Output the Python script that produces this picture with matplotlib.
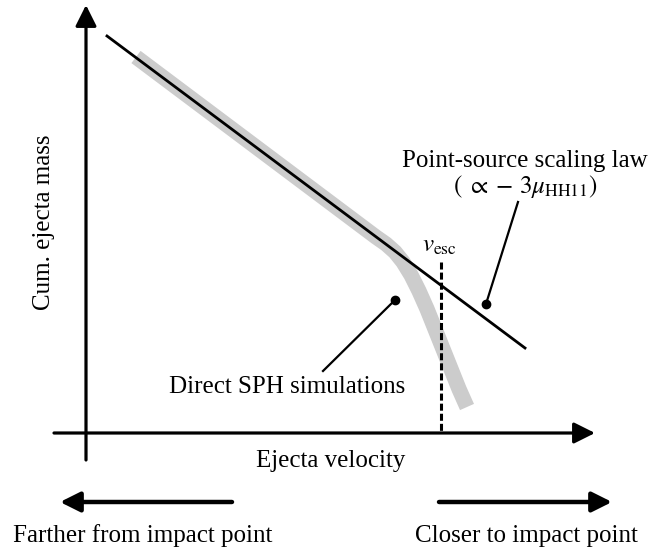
import numpy as np
import matplotlib.pyplot as plt

plt.rcParams['font.family'] = ['Liberation Serif', 'DejaVu Serif']
plt.rcParams['mathtext.fontset'] = 'stix'

# schematic coordinates (pixel-like units, y grows downward)
law_x = [107, 525]
law_y = [36, 348]

sph_x = [136, 300, 376, 386, 395, 403, 411, 419, 427, 435, 443, 451, 459, 467]
sph_y = [57, 180, 237, 244, 252, 262, 275, 291, 309, 329, 349, 369, 389, 407]

v_esc = 441
axis_y0 = 433
fs = 18

fig = plt.figure(figsize=(6.66, 5.49), dpi=100)
ax = fig.add_axes([0, 0, 1, 1])
ax.set_xlim(0, 666)
ax.set_ylim(549, 0)
ax.axis('off')

# axes arrows
ax.annotate('', xy=(86, 5), xytext=(86, 460),
            arrowprops=dict(arrowstyle='-|>', lw=2.3, color='k', mutation_scale=32,
                            shrinkA=0, shrinkB=0))
ax.annotate('', xy=(595, axis_y0), xytext=(54, axis_y0),
            arrowprops=dict(arrowstyle='-|>', lw=2.3, color='k', mutation_scale=32,
                            shrinkA=0, shrinkB=0))

# SPH curve and scaling law
ax.plot(sph_x, sph_y, color='#cccccc', lw=11, solid_capstyle='butt',
        solid_joinstyle='round', zorder=2)
ax.plot(law_x, law_y, color='k', lw=2.0, zorder=3)

# escape velocity
ax.plot([v_esc, v_esc], [262, axis_y0], color='k', lw=2.2, dashes=(2.3, 1.0), zorder=3)
ax.text(439, 252, r'$v_{\rm esc}$', fontsize=fs, ha='center', va='baseline')

# labels with pointers
ax.text(525, 167, 'Point-source scaling law', fontsize=fs, ha='center', va='baseline')
ax.text(525, 193, r'$(\ \propto -\, 3\mu_{\rm HH11})$', fontsize=fs,
        ha='center', va='baseline')
ax.plot([518, 486], [202, 304], color='k', lw=1.6)
ax.plot([486], [304], 'o', color='k', ms=6)

ax.text(405, 393, 'Direct SPH simulations', fontsize=fs, ha='right', va='baseline')
ax.plot([323, 395], [371, 300], color='k', lw=1.6)
ax.plot([395], [300], 'o', color='k', ms=6)

ax.text(44, 222, 'Cum. ejecta mass', fontsize=fs, ha='center', va='center', rotation=90)
ax.text(405, 467, 'Ejecta velocity', fontsize=fs, ha='right', va='baseline')

# direction arrows
ax.annotate('', xy=(60, 502), xytext=(232, 502),
            arrowprops=dict(arrowstyle='-|>', lw=3.2, color='k', mutation_scale=30,
                            shrinkA=0, shrinkB=0))
ax.annotate('', xy=(612, 502), xytext=(439, 502),
            arrowprops=dict(arrowstyle='-|>', lw=3.2, color='k', mutation_scale=30,
                            shrinkA=0, shrinkB=0))
ax.text(13, 542, 'Farther from impact point', fontsize=fs, ha='left', va='baseline')
ax.text(638, 542, 'Closer to impact point', fontsize=fs, ha='right', va='baseline')

fig.savefig('out.png', dpi=100)
